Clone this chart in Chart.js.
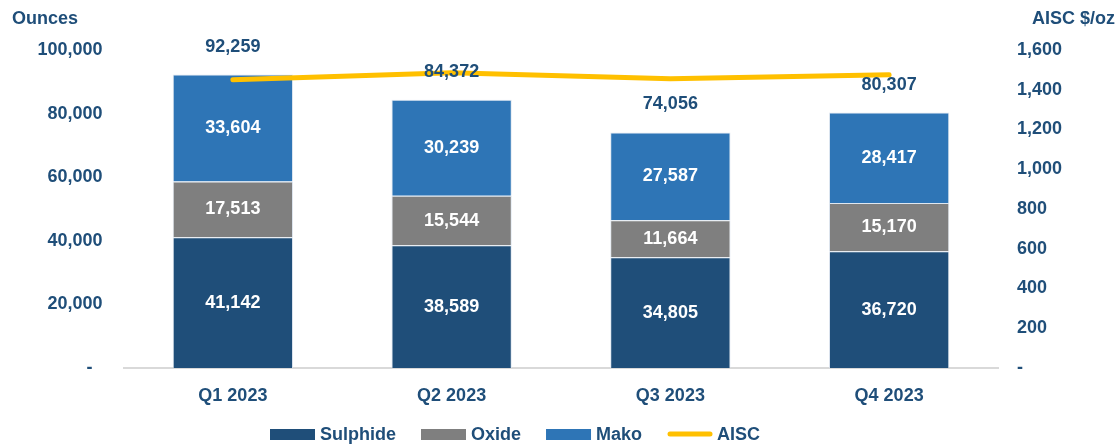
<!DOCTYPE html>
<html>
<head>
<meta charset="utf-8">
<script src="https://cdn.jsdelivr.net/npm/chart.js@4.4.1/dist/chart.umd.min.js"></script>
<style>
  html, body { margin: 0; padding: 0; background: #ffffff; }
  #wrap { width: 1119px; height: 445px; position: relative; }
</style>
</head>
<body>
<div id="wrap"><canvas id="c" width="1119" height="445"></canvas></div>
<script>
const categories = ['Q1 2023', 'Q2 2023', 'Q3 2023', 'Q4 2023'];
const sulphide = [41142, 38589, 34805, 36720];
const oxide = [17513, 15544, 11664, 15170];
const mako = [33604, 30239, 27587, 28417];
const totals = [92259, 84372, 74056, 80307];
const aisc = [1450, 1485, 1455, 1475];
const leftAxisTitle = 'Ounces';
const rightAxisTitle = 'AISC $/oz';

const NAVY = '#1F4E79';
const FONT = "'Liberation Sans', Arial, sans-serif";
const fmt = v => v.toLocaleString('en-US');

const labelsPlugin = {
  id: 'labelsPlugin',
  afterDatasetsDraw(chart) {
    const ctx = chart.ctx;
    ctx.save();
    ctx.font = 'bold 18px ' + FONT;
    ctx.textAlign = 'center';
    ctx.textBaseline = 'middle';
    [0, 1, 2].forEach(di => {
      const meta = chart.getDatasetMeta(di);
      meta.data.forEach((bar, i) => {
        const v = chart.data.datasets[di].data[i];
        ctx.fillStyle = '#ffffff';
        ctx.fillText(fmt(v), bar.x, (bar.y + bar.base) / 2);
      });
    });
    const yScale = chart.scales.y;
    const topMeta = chart.getDatasetMeta(2);
    topMeta.data.forEach((bar, i) => {
      const yTop = yScale.getPixelForValue(totals[i]);
      ctx.fillStyle = NAVY;
      ctx.fillText(fmt(totals[i]), bar.x, yTop - 28);
    });
    ctx.restore();
  },
  afterDraw(chart) {
    const ctx = chart.ctx;
    ctx.save();
    ctx.font = 'bold 18px ' + FONT;
    ctx.fillStyle = NAVY;
    ctx.textBaseline = 'middle';
    ctx.textAlign = 'left';
    ctx.fillText(leftAxisTitle, 12, 19);
    ctx.textAlign = 'right';
    ctx.fillText(rightAxisTitle, 1115, 19);
    let x = 270;
    const yc = 434;
    ctx.textAlign = 'left';
    [0, 1, 2, 3].forEach(di => {
      const ds = chart.data.datasets[di];
      if (ds.type === 'line') {
        ctx.strokeStyle = ds.borderColor;
        ctx.lineWidth = 5;
        ctx.lineCap = 'round';
        ctx.beginPath();
        ctx.moveTo(x + 3, yc);
        ctx.lineTo(x + 43, yc);
        ctx.stroke();
      } else {
        ctx.fillStyle = ds.backgroundColor;
        ctx.fillRect(x, yc - 5, 45, 11);
      }
      x += 50;
      ctx.fillStyle = NAVY;
      ctx.fillText(ds.label, x, yc + 1);
      x += ctx.measureText(ds.label).width + 25;
    });
    ctx.restore();
  }
};

new Chart(document.getElementById('c'), {
  type: 'bar',
  data: {
    labels: categories,
    datasets: [
      { label: 'Sulphide', data: sulphide, backgroundColor: '#1F4E79', borderColor: 'rgba(220,228,238,0.9)', borderWidth: 1, stack: 's', yAxisID: 'y', order: 1, categoryPercentage: 1, barPercentage: 0.55 },
      { label: 'Oxide', data: oxide, backgroundColor: '#7F7F7F', borderColor: 'rgba(220,228,238,0.9)', borderWidth: 1, stack: 's', yAxisID: 'y', order: 1, categoryPercentage: 1, barPercentage: 0.55 },
      { label: 'Mako', data: mako, backgroundColor: '#2E75B6', borderColor: 'rgba(220,228,238,0.9)', borderWidth: 1, stack: 's', yAxisID: 'y', order: 1, categoryPercentage: 1, barPercentage: 0.55 },
      { type: 'line', label: 'AISC', data: aisc, borderColor: '#FFC000', backgroundColor: '#FFC000', borderWidth: 5, borderCapStyle: 'round', pointRadius: 0, tension: 0, yAxisID: 'y2', order: 0 }
    ]
  },
  options: {
    responsive: false,
    animation: false,
    devicePixelRatio: 1,
    layout: { padding: { top: 50, bottom: 0, left: 0, right: 0 } },
    plugins: { legend: { display: false }, tooltip: { enabled: false } },
    scales: {
      x: {
        stacked: true,
        grid: { display: false },
        border: { display: true, color: '#D9D9D9', width: 2 },
        ticks: { color: NAVY, font: { family: FONT, size: 18, weight: 'bold' }, padding: 9 },
        afterFit: s => { s.height = 77; }
      },
      y: {
        stacked: true,
        position: 'left',
        min: 0, max: 100000,
        grid: { display: false },
        border: { display: false },
        ticks: { stepSize: 20000, color: NAVY, font: { family: FONT, size: 18, weight: 'bold' }, padding: 13,
          callback: v => v === 0 ? '-  ' : fmt(v) },
        afterFit: s => { s.width = 123.5; }
      },
      y2: {
        position: 'right',
        min: 0, max: 1600,
        grid: { display: false },
        border: { display: false },
        ticks: { stepSize: 200, color: NAVY, font: { family: FONT, size: 18, weight: 'bold' }, padding: 10.5,
          callback: v => v === 0 ? '-' : fmt(v) },
        afterFit: s => { s.width = 120.5; }
      }
    }
  },
  plugins: [labelsPlugin]
});
</script>
</body>
</html>
